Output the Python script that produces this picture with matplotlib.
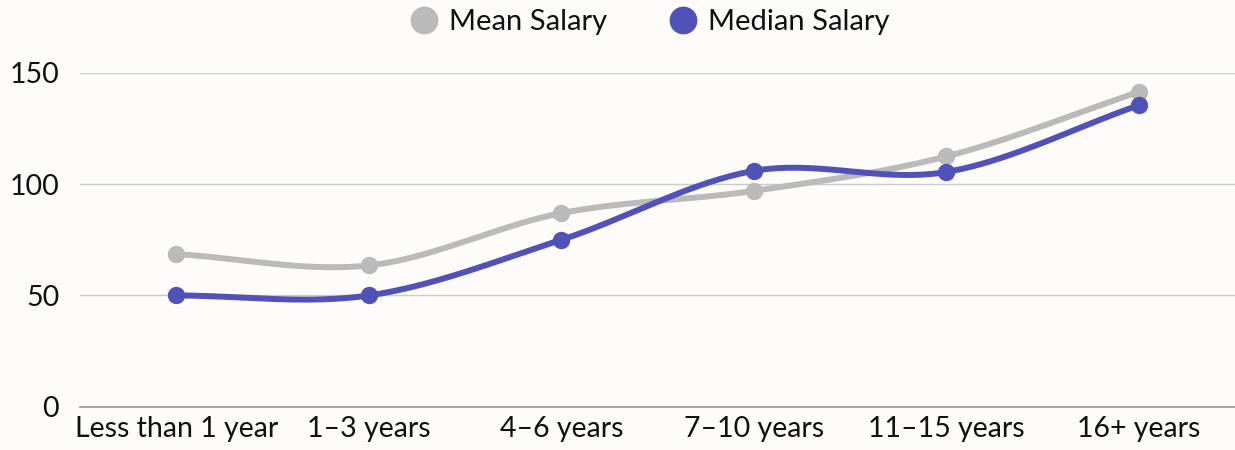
import matplotlib.pyplot as plt
import numpy as np

CATEGORIES = ['Less than 1 year', '1–3 years', '4–6 years', '7–10 years', '11–15 years', '16+ years']
MEAN_SALARY = [68.6, 63.5, 87, 97, 112.5, 141.5]
MEDIAN_SALARY = [50, 50, 75, 106, 105.5, 135.5]
YTICKS = [0, 50, 100, 150]

GRAY = '#bababa'
BLUE = '#5152b7'
BG = '#fdfcfb'


def smooth(xs, ys, tension=0.5, n=40):
    # catmull-rom style curve through the points
    xs = np.asarray(xs, float)
    ys = np.asarray(ys, float)
    px = np.concatenate([[2 * xs[0] - xs[1]], xs, [2 * xs[-1] - xs[-2]]])
    py = np.concatenate([[2 * ys[0] - ys[1]], ys, [2 * ys[-1] - ys[-2]]])
    out_x, out_y = [], []
    for i in range(1, len(px) - 2):
        t = np.linspace(0, 1, n)
        m1x = tension * (px[i + 1] - px[i - 1])
        m2x = tension * (px[i + 2] - px[i])
        m1y = tension * (py[i + 1] - py[i - 1])
        m2y = tension * (py[i + 2] - py[i])
        h00 = 2 * t**3 - 3 * t**2 + 1
        h10 = t**3 - 2 * t**2 + t
        h01 = -2 * t**3 + 3 * t**2
        h11 = t**3 - t**2
        out_x.extend(h00 * px[i] + h10 * m1x + h01 * px[i + 1] + h11 * m2x)
        out_y.extend(h00 * py[i] + h10 * m1y + h01 * py[i + 1] + h11 * m2y)
    return out_x, out_y


def main():
    plt.rcParams['font.family'] = ['Lato', 'DejaVu Sans']
    fig = plt.figure(figsize=(12.35, 4.5), dpi=100, facecolor=BG)
    ax = fig.add_axes([80 / 1235, 43.3 / 450, 1155 / 1235, 333.7 / 450])
    ax.set_facecolor(BG)

    x = np.arange(len(CATEGORIES))
    for vals, col, lab in [(MEAN_SALARY, GRAY, 'Mean Salary'), (MEDIAN_SALARY, BLUE, 'Median Salary')]:
        sx, sy = smooth(x, vals)
        ax.plot(sx, sy, color=col, lw=4.3, solid_capstyle='round', zorder=3)
        ax.plot(x, vals, 'o', color=col, ms=11.5, zorder=4)
        ax.plot([], [], 'o', color=col, ms=19, label=lab)

    ax.set_xlim(-0.5, len(CATEGORIES) - 0.5)
    ax.set_ylim(0, 150)
    ax.set_yticks(YTICKS)
    ax.set_xticks(x)
    ax.set_xticklabels(CATEGORIES)
    ax.tick_params(axis='both', length=0, labelsize=20.5, colors='#111111')
    ax.tick_params(axis='y', pad=15)
    ax.tick_params(axis='x', pad=7)
    ax.grid(axis='y', color='#cccccc', lw=1)
    ax.set_axisbelow(True)
    for s in ['top', 'right', 'left']:
        ax.spines[s].set_visible(False)
    ax.spines['bottom'].set_color('#999999')
    ax.spines['bottom'].set_linewidth(1.2)

    fig.legend(loc='center', bbox_to_anchor=(651 / 1235, 1 - 22 / 450), ncol=2, frameon=False,
               fontsize=21, handlelength=0.8, handletextpad=0.45, columnspacing=2.2,
               labelcolor='#111111')

    fig.savefig('out.png', dpi=100, facecolor=BG)


if __name__ == '__main__':
    main()
